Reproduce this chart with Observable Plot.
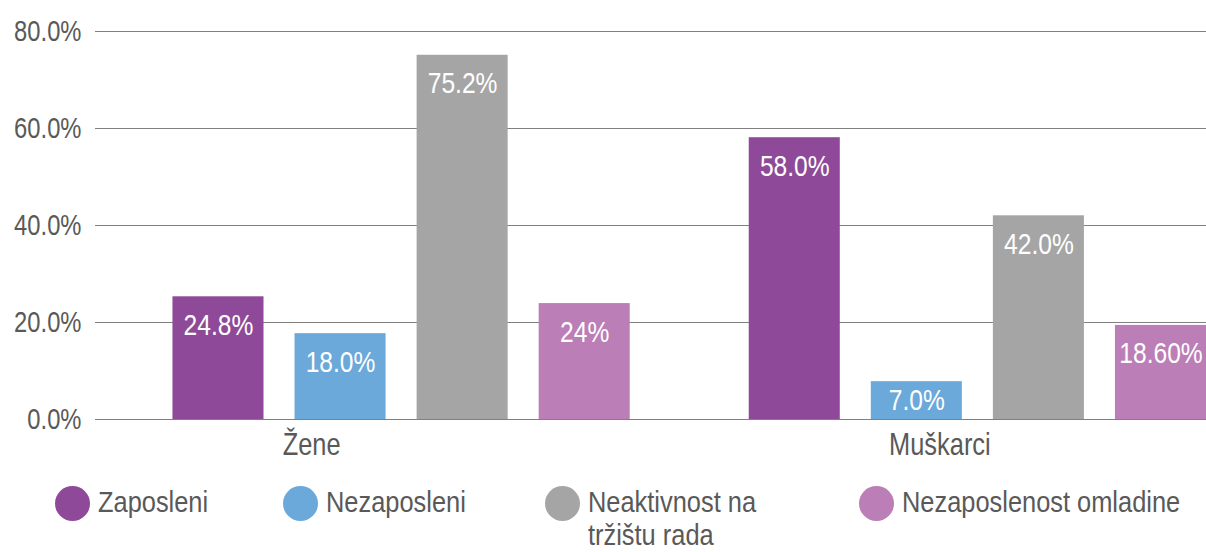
<!DOCTYPE html>
<html>
<head>
<meta charset="utf-8">
<script src="https://cdn.jsdelivr.net/npm/d3@7"></script>
<script src="https://cdn.jsdelivr.net/npm/@observablehq/plot@0.6"></script>
<style>
  html, body { margin: 0; padding: 0; background: #fff; }
  #wrap { position: relative; width: 1206px; height: 552px; overflow: hidden; font-family: "Liberation Sans Narrow", "Liberation Sans", sans-serif; }
  #legend { position: absolute; left: 0; top: 470px; }
</style>
</head>
<body>
<div id="wrap">
  <div id="chart"></div>
  <div id="legend"></div>
</div>
<script>
const categories = ["Žene", "Muškarci"];
const series = ["Zaposleni", "Nezaposleni", "Neaktivnost na tržištu rada", "Nezaposlenost omladine"];
const legendLines = [["Zaposleni"], ["Nezaposleni"], ["Neaktivnost na", "tržištu rada"], ["Nezaposlenost omladine"]];
const colors = ["#8E4A98", "#6AA9DA", "#A5A5A5", "#BB7EB6"];
const zeneValues = [25.3, 17.7, 75.1, 23.9];
const muskarciValues = [58.1, 7.8, 42.0, 19.4];
const zeneLabels = ["24.8%", "18.0%", "75.2%", "24%"];
const muskarciLabels = ["58.0%", "7.0%", "42.0%", "18.60%"];
const yTicks = [0, 20, 40, 60, 80];

const FONT = "'Liberation Sans Narrow', 'Liberation Sans', sans-serif";
const NARROW = 0.82; // horizontal condensation of the text

const data = [];
series.forEach((s, i) => {
  data.push({group: categories[0], series: s, value: zeneValues[i], label: zeneLabels[i]});
  data.push({group: categories[1], series: s, value: muskarciValues[i], label: muskarciLabels[i]});
});

// layout constants (pixels)
const W = 1206, ML = 95;
const fxPadIn = 0.2065, fxPadOut = 0.0672;
const fxStep = (W - ML) / (2 - fxPadIn + 2 * fxPadOut);
const fxStart = ML + (W - ML - fxStep * (2 - fxPadIn));
const fxBand = fxStep * (1 - fxPadIn);
const leftExt = fxStart - ML;
const rightExt = W - (fxStart + fxBand);

const gridFacet = () => categories[0];
const minLabelY = 9.7; // keep value labels of short bars inside the bar

const plot = Plot.plot({
  width: W,
  height: 470,
  marginLeft: ML,
  marginRight: 0,
  marginTop: 31,
  marginBottom: 51,
  style: {fontFamily: FONT, color: "#595959", background: "white", overflow: "visible"},
  fx: {domain: categories, paddingInner: fxPadIn, paddingOuter: fxPadOut, align: 1, round: false, axis: null, label: null},
  x: {domain: series, paddingInner: 0.2541, paddingOuter: 0, round: false, axis: null},
  y: {domain: [0, 80], axis: null},
  color: {domain: series, range: colors},
  marks: [
    Plot.ruleY(yTicks, {fx: gridFacet, y: d => d, stroke: "#808080", strokeWidth: 1.2, insetLeft: -leftExt, insetRight: -rightExt}),
    Plot.text(yTicks, {fx: gridFacet, y: d => d, text: d => d.toFixed(1) + "%", frameAnchor: "left", textAnchor: "end", dx: -14 - leftExt, fontSize: 29, fill: "#595959"}),
    Plot.barY(data, {fx: "group", x: "series", y: "value", fill: "series"}),
    Plot.ruleY([0], {fx: gridFacet, stroke: "#808080", strokeWidth: 1.2, insetLeft: -leftExt, insetRight: -rightExt}),
    Plot.text(data, {fx: "group", x: "series", y: d => Math.max(d.value, minLabelY), text: "label", fill: "white", fontSize: 30, lineAnchor: "bottom", dy: 38}),
    Plot.text([categories[0]], {fx: d => d, text: d => d, frameAnchor: "bottom", lineAnchor: "bottom", dy: 35, dx: -90, fontSize: 31, fill: "#595959"}),
    Plot.text([categories[1]], {fx: d => d, text: d => d, frameAnchor: "bottom", lineAnchor: "bottom", dy: 35, dx: -38, fontSize: 31, fill: "#595959"})
  ]
});
document.getElementById("chart").appendChild(plot);

// condense texts horizontally around their anchor point (narrow typeface look)
function condense(sel, k) {
  sel.each(function() {
    const t = this.getAttribute("transform") || "";
    const x = +(this.getAttribute("x") || 0);
    this.setAttribute("transform", `${t} translate(${x},0) scale(${k},1) translate(${-x},0)`.trim());
  });
}
condense(d3.select(plot).selectAll("text"), NARROW);

// legend (below the chart SVG)
const LEGEND_FS = 29.5;
const legendLefts = [55, 283, 545, 859];
const lsvg = d3.select("#legend").append("svg")
  .attr("width", W).attr("height", 82)
  .style("font-family", FONT).style("display", "block");
series.forEach((s, i) => {
  const g = lsvg.append("g").attr("transform", `translate(${legendLefts[i]},0)`);
  g.append("circle").attr("cx", 17.5).attr("cy", 33.5).attr("r", 17.5).attr("fill", colors[i]);
  legendLines[i].forEach((line, j) => {
    g.append("text").attr("x", 43).attr("y", 42.5 + j * 33)
      .attr("font-size", LEGEND_FS).attr("fill", "#595959").text(line);
  });
});
condense(lsvg.selectAll("text"), NARROW * 31 / LEGEND_FS);
</script>
</body>
</html>
